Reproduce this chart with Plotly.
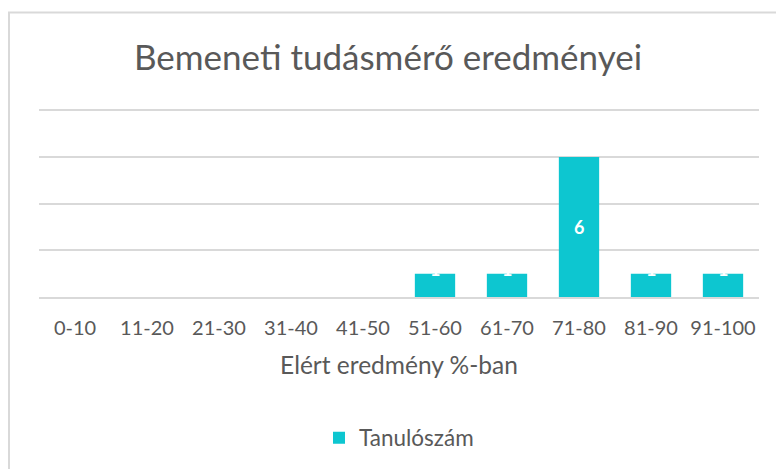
import plotly.graph_objects as go

categories = ["0-10", "11-20", "21-30", "31-40", "41-50", "51-60", "61-70", "71-80", "81-90", "91-100"]
values = [0, 0, 0, 0, 0, 1, 1, 6, 1, 1]
series_name = "Tanulószám"
title_text = "Bemeneti tudásmérő eredményei"
x_title = "Elért eredmény %-ban"

W, H = 776, 469
YMAX = 8.1
L, R, B = 39, 759, 298  # plot area pixel bounds
T = round(B - 188 * YMAX / 8)
FONT = "Lato"
TXT = "#595959"
BAR = "#0DC6D0"
GRID = "#D9D9D9"

def px_x(px):
    return (px - L) / (R - L)

def px_y(py):
    return (B - py) / (B - T)

fig = go.Figure()
fig.add_trace(go.Bar(
    x=categories, y=values, name=series_name,
    marker=dict(color=BAR, line=dict(width=0)),
    showlegend=True,
))

annotations = []
for c, v in zip(categories, values):
    if v <= 0:
        continue
    if v >= 2:
        annotations.append(dict(x=c, y=v / 2, xref="x", yref="y", text=f"<b>{v}</b>",
                                showarrow=False, font=dict(family=FONT, size=18, color="white"),
                                yanchor="middle"))
    else:
        annotations.append(dict(x=c, y=v, xref="x", yref="y", text=f"<b>{v}</b>",
                                showarrow=False, font=dict(family=FONT, size=18, color="white"),
                                yanchor="bottom", yshift=-8))

fig.update_layout(
    width=W, height=H,
    margin=dict(l=L, r=W - R, t=T, b=H - B, pad=0),
    paper_bgcolor="white", plot_bgcolor="white",
    title=dict(text=title_text, x=0.5, xanchor="center", y=1 - 58 / H, yanchor="middle",
               font=dict(family=FONT, size=35, color=TXT)),
    bargap=0.44,
    xaxis=dict(showgrid=False, showline=True, linecolor=GRID, linewidth=1.5,
               ticks="", tickfont=dict(family=FONT, size=20, color=TXT),
               ticklabelstandoff=12,
               title=dict(text=x_title, font=dict(family=FONT, size=24.5, color=TXT), standoff=19),
               fixedrange=True),
    yaxis=dict(range=[0, YMAX], tick0=0, dtick=2, showgrid=True, gridcolor=GRID, gridwidth=1.5,
               showticklabels=False, zeroline=False, showline=False, ticks="",
               fixedrange=True),
    legend=dict(orientation="h", x=0.5, xanchor="center", y=px_y(438), yanchor="middle",
                font=dict(family=FONT, size=22.5, color=TXT), itemwidth=30,
                bgcolor="rgba(0,0,0,0)"),
    annotations=annotations,
    shapes=[dict(type="rect", xref="paper", yref="paper",
                 x0=px_x(9), x1=px_x(W + 20), y0=px_y(H + 20), y1=px_y(12),
                 line=dict(color=GRID, width=2), fillcolor="rgba(0,0,0,0)", layer="below")],
)

fig.write_html("out.html", config={"displayModeBar": False},
               post_script="document.body.style.margin='0';")
